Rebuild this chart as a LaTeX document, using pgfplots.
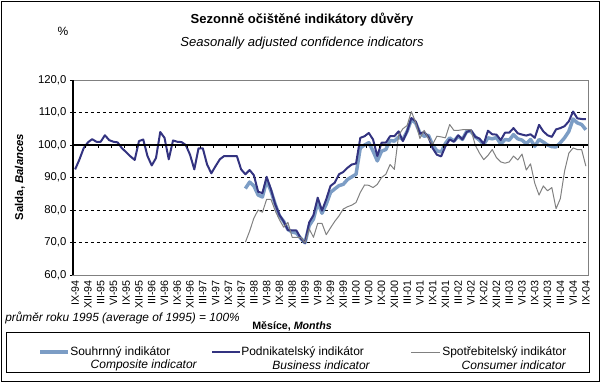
\documentclass[border=0pt]{standalone}
\usepackage{pgfplots}
\pgfplotsset{compat=1.18}
\usepackage{pgfplotstable}
\usepackage{fontspec}
\setmainfont{Liberation Sans}
\definecolor{compc}{RGB}{124,157,197}
\definecolor{busc}{RGB}{51,51,128}
\definecolor{consc}{RGB}{128,128,128}
\definecolor{bordc}{RGB}{128,128,128}

\pgfplotstableread{
i bus
0 92.5
1 95.5
2 99.0
3 100.8
4 101.8
5 101.0
6 101.0
7 103.0
8 101.5
9 101.0
10 100.8
11 99.0
12 97.8
13 96.5
14 95.4
15 101.2
16 101.7
17 96.6
18 93.7
19 96.0
20 104.0
21 102.2
22 95.6
23 101.4
24 101.0
25 100.9
26 100.0
27 97.0
28 92.5
29 99.0
30 99.0
31 94.0
32 91.3
33 93.5
34 95.6
35 96.6
36 96.6
37 96.6
38 96.6
39 92.5
40 91.0
41 92.3
42 90.7
43 85.6
44 85.2
45 90.2
46 86.4
47 81.8
48 78.5
49 76.5
50 73.8
51 73.7
52 73.7
53 71.3
54 69.9
55 76.2
56 78.4
57 83.8
58 79.8
59 83.3
60 87.4
61 88.4
62 91.0
63 91.7
64 93.0
65 94.0
66 94.3
67 102.2
68 102.7
69 103.7
70 101.7
71 96.6
72 100.7
73 100.7
74 102.7
75 102.7
76 104.2
77 101.2
78 104.2
79 108.3
80 107.3
81 103.5
82 104.0
83 102.5
84 99.0
85 97.0
86 96.5
87 99.6
88 101.7
89 101.0
90 103.0
91 101.7
92 104.0
93 104.6
94 102.5
95 102.0
96 100.3
97 104.4
98 103.3
99 103.2
100 101.5
101 103.8
102 103.8
103 105.2
104 103.6
105 103.2
106 102.9
107 103.3
108 102.2
109 106.2
110 104.2
111 103.0
112 102.5
113 104.8
114 105.2
115 105.8
116 107.3
117 110.3
118 108.2
119 108.0
120 108.0
}\business

\pgfplotstableread{
i comp cons
40 86.6 70.1
41 88.6 73.5
42 87.4 77.5
43 84.6 80.0
44 84.0 79.3
45 89.0 83.3
46 85.9 83.3
47 81.8 79.8
48 78.2 77.0
49 76.5 74.7
50 74.0 76.2
51 73.2 71.6
52 72.9 71.6
53 71.3 71.6
54 69.9 69.9
55 75.2 74.2
56 77.2 71.6
57 82.3 75.9
58 79.0 75.9
59 81.8 72.4
60 85.4 74.5
61 86.5 76.5
62 87.5 78.2
63 87.9 80.3
64 89.4 81.0
65 90.2 81.5
66 91.0 82.3
67 99.1 85.4
68 100.0 87.7
69 100.7 87.6
70 98.1 86.9
71 95.1 87.9
72 98.1 90.0
73 98.6 91.0
74 101.4 94.0
75 101.2 92.5
76 102.5 103.0
77 101.7 105.0
78 104.2 106.0
79 107.8 110.3
80 106.8 107.0
81 103.7 102.0
82 102.7 104.5
83 103.0 102.0
84 100.0 100.2
85 98.2 102.7
86 97.9 102.5
87 100.5 102.2
88 102.2 106.3
89 101.2 104.5
90 102.7 104.5
91 101.7 104.7
92 104.2 104.7
93 104.2 104.7
94 102.5 100.0
95 101.5 97.5
96 100.2 95.5
97 102.2 96.8
98 101.9 98.6
99 102.3 96.1
100 100.3 94.8
101 101.7 94.4
102 101.5 94.8
103 103.2 96.6
104 101.9 95.4
105 101.5 97.2
106 100.4 92.3
107 101.7 94.2
108 99.6 88.2
109 101.7 84.6
110 100.9 87.4
111 100.0 85.9
112 99.5 86.9
113 99.4 80.4
114 100.7 83.5
115 102.2 92.0
116 104.2 97.5
117 108.0 99.1
118 106.8 98.6
119 106.3 98.6
120 104.7 93.5
}\others

\begin{document}
\begin{tikzpicture}
\begin{axis}[
  at={(54.75pt,-60pt)}, anchor=north west,
  scale only axis, width=386.25pt, height=146.25pt,
  xmin=-0.5, xmax=120.5, ymin=60, ymax=120,
  ytick={60,70,...,120},
  xtick={0,3,...,120},
  xticklabels={IX-94,XII-94,III-95,VI-95,IX-95,XII-95,III-96,VI-96,IX-96,XII-96,III-97,VI-97,IX-97,XII-97,III-98,VI-98,IX-98,XII-98,III-99,VI-99,IX-99,XII-99,III-00,VI-00,IX-00,XII-00,III-01,VI-01,IX-01,XII-01,III-02,VI-02,IX-02,XII-02,III-03,VI-03,IX-03,XII-03,III-04,VI-04,IX-04},
  x tick label style={rotate=90, anchor=east, font=\fontsize{8}{9}\selectfont, inner sep=1.5pt},
  xtick style={draw=none},
  ytick pos=left, tick align=outside, major tick length=2.25pt,
  ytick style={black, line width=0.75pt},
  y tick label style={font=\fontsize{8.5}{10}\selectfont, inner sep=2.5pt},
  yticklabel style={/pgf/number format/.cd, fixed, fixed zerofill, precision=1, use comma, assume math mode=true},
  ymajorgrids, grid style={black, line width=0.75pt, dash pattern=on 2.25pt off 2.25pt},
  axis line style={bordc, line width=0.75pt},
  clip=false,
]
\addplot[compc, line width=2.6pt, line join=round] table[x=i, y=comp] {\others};
\addplot[busc, line width=1.5pt, line join=round] table[x=i, y=bus] {\business};
\addplot[consc, line width=0.75pt, line join=round] table[x=i, y=cons] {\others};
\draw[black, line width=0.9pt] (axis cs:-0.5,100) -- (axis cs:120.5,100);
\pgfplotsinvokeforeach{1,...,40}{\draw[black, line width=0.75pt] ([yshift=0.75pt]axis cs:{3*#1-0.5},100) -- ([yshift=-2.25pt]axis cs:{3*#1-0.5},100);}
\draw[black, line width=0.9pt] (rel axis cs:0,0) -- (rel axis cs:0,1);
\end{axis}

\begin{scope}[x=0.75pt,y=-0.75pt]
\path (0,0) rectangle (604,387);
\draw[black, line width=0.75pt] (1,1) rectangle (599,381);
% titles
\node[font=\bfseries\fontsize{9.8}{11}\selectfont] at (302,20) {Sezonně očištěné indikátory důvěry};
\node[font=\itshape\fontsize{9.8}{11}\selectfont] at (302,43) {Seasonally adjusted confidence indicators};
\node[font=\fontsize{9}{10}\selectfont] at (63,31) {\%};
\node[font=\bfseries\fontsize{8.5}{10}\selectfont, rotate=90] at (20,177) {Salda, \textit{Balances}};
\node[font=\itshape\fontsize{8.9}{10}\selectfont, anchor=west, inner sep=0pt] at (5,318) {průměr roku 1995 (average of 1995) = 100\%};
\node[font=\bfseries\fontsize{8}{9.5}\selectfont] at (292,326) {Měsíce, \textit{Months}};
% legend
\draw[black, line width=0.75pt] (6,332) rectangle (589,372);
\draw[compc, line width=2.6pt] (40,352) -- (68,352);
\draw[busc, line width=1.5pt] (212,352) -- (240,352);
\draw[consc, line width=0.75pt] (411,352) -- (440,352);
\begin{scope}[every node/.style={font=\fontsize{9}{10}\selectfont, inner sep=0pt}]
\node[anchor=west] at (70,352) {Souhrnný indikátor};
\node[anchor=east, font=\itshape\fontsize{9}{10}\selectfont] at (197,365) {Composite indicator};
\node[anchor=west] at (241,352) {Podnikatelský indikátor};
\node[anchor=east, font=\itshape\fontsize{9}{10}\selectfont] at (370,365) {Business indicator};
\node[anchor=west] at (442,352) {Spotřebitelský indikátor};
\node[anchor=east, font=\itshape\fontsize{9}{10}\selectfont] at (566,365) {Consumer indicator};
\end{scope}
\end{scope}
\end{tikzpicture}
\end{document}
